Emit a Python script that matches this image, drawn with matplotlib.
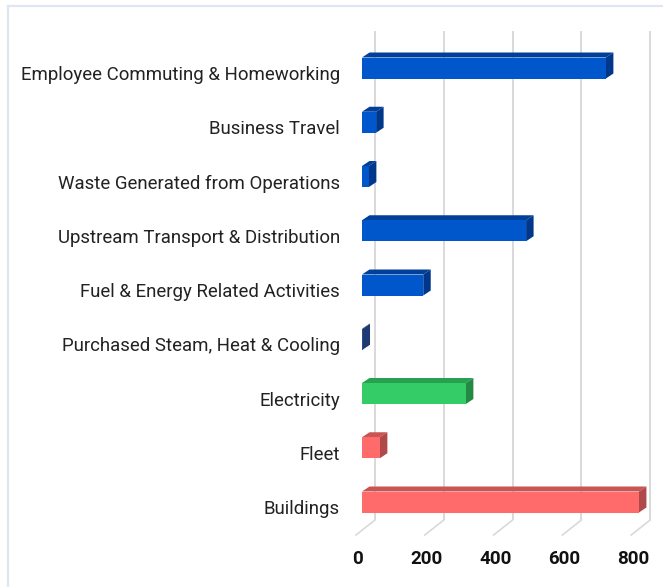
import matplotlib
matplotlib.use("Agg")
import matplotlib.pyplot as plt
from matplotlib.patches import Polygon, Rectangle
from matplotlib.lines import Line2D
from matplotlib.transforms import ScaledTranslation

plt.rcParams['font.family'] = ['Roboto', 'DejaVu Sans']

# categories, bottom to top
categories = ["Buildings", "Fleet", "Electricity", "Purchased Steam, Heat & Cooling",
              "Fuel & Energy Related Activities", "Upstream Transport & Distribution",
              "Waste Generated from Operations", "Business Travel",
              "Employee Commuting & Homeworking"]
values = [805, 52, 302, 1.5, 178, 477, 20, 41, 709]
front_cols = ["#ff6b6b", "#ff6b6b", "#33cc66", "#2b4b8b", "#0057cc",
              "#0057cc", "#0057cc", "#0057cc", "#0057cc"]
top_cols = ["#c95454", "#c95454", "#27a050", "#22407a", "#003f9a",
            "#003f9a", "#003f9a", "#003f9a", "#003f9a"]
side_cols = ["#b04a4a", "#b04a4a", "#238a45", "#1f3a70", "#00378a",
             "#00378a", "#00378a", "#00378a", "#00378a"]
x_ticks = [0, 200, 400, 600, 800]

W, H, DPI = 663, 587, 100
fig = plt.figure(figsize=(W / DPI, H / DPI), dpi=DPI)

# axes placement in pixels
L, R, T, B = 362, 655, 31, 535
ax = fig.add_axes([L / W, (H - B) / H, (R - L) / W, (B - T) / H])

px_per_200 = 68.8
xu = 200 / px_per_200          # data units per pixel (x)
row_px = 54.25
yu = 1 / row_px                # data units per pixel (y)
first_px = 502                 # front center of bottom bar (image y)

ymin = -(B - first_px) * yu
ymax = (first_px - T) * yu
xmax = (R - L) * xu
ax.set_xlim(0, xmax)
ax.set_ylim(ymin, ymax)

# 3d depth
dx, dy = 7.5 * xu, 5 * yu
wall = 13 * xu
bar_h = 21 * yu

# back wall gridlines + floor
grid_c = "#d9d9d9"
for t in x_ticks:
    ax.plot([t + wall, t + wall], [ymin + 15 * yu, ymax], color=grid_c, lw=1.4,
            zorder=0, clip_on=False, solid_capstyle='butt')
    ax.plot([t - 6 * xu, t + wall], [ymin, ymin + 15 * yu], color=grid_c, lw=1.2,
            zorder=0, clip_on=False)

for i, v in enumerate(values):
    y0, y1 = i - bar_h / 2, i + bar_h / 2
    ax.add_patch(Polygon([(0, y1), (v, y1), (v + dx, y1 + dy), (dx, y1 + dy)],
                         closed=True, fc=top_cols[i], ec='none', zorder=2))
    ax.add_patch(Polygon([(v, y0), (v + dx, y0 + dy), (v + dx, y1 + dy), (v, y1)],
                         closed=True, fc=side_cols[i], ec='none', zorder=2))
    ax.add_patch(Rectangle((0, y0), v, bar_h, fc=front_cols[i], ec='none', zorder=3))

for s in ax.spines.values():
    s.set_visible(False)

ax.set_yticks(range(len(categories)))
ax.set_yticklabels(categories, fontsize=13.45, color="#222222")
ax.set_xticks(x_ticks)
ax.set_xticklabels([str(t) for t in x_ticks], fontsize=13.5, fontweight='bold', color="#111111")
ax.tick_params(axis='y', length=0, pad=15.8)
ax.tick_params(axis='x', length=0, pad=10.5)

for lab in ax.get_yticklabels():
    lab.set_transform(lab.get_transform() + ScaledTranslation(0, -5 / DPI, fig.dpi_scale_trans))
for lab in ax.get_xticklabels():
    lab.set_transform(lab.get_transform() + ScaledTranslation(-4 / DPI, 0, fig.dpi_scale_trans))

# light frame around the chart
frame_c = "#dfe6f1"
fig.add_artist(Line2D([7.5 / W, 1], [1 - 6 / H, 1 - 6 / H], color=frame_c, lw=1.6))
fig.add_artist(Line2D([7.5 / W, 7.5 / W], [0, 1 - 6 / H], color=frame_c, lw=1.6))

fig.savefig("out.png", dpi=DPI)
